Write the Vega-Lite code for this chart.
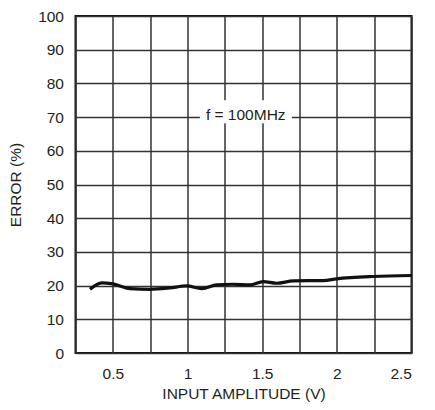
{
  "$schema": "https://vega.github.io/schema/vega-lite/v6.json",
  "autosize": "none",
  "width": 336,
  "height": 337,
  "padding": {"left": 75.5, "top": 16, "right": 23, "bottom": 57},
  "background": "white",
  "config": {
    "font": "Liberation Sans",
    "view": {"stroke": "#111111", "strokeWidth": 2},
    "axis": {
      "grid": true,
      "gridColor": "#333333",
      "gridWidth": 1.5,
      "gridOpacity": 1,
      "domain": false,
      "ticks": false,
      "tickCount": 50,
      "labelOverlap": false,
      "labelFont": "Liberation Sans",
      "labelFontSize": 15.5,
      "labelColor": "#231f20",
      "titleFont": "Liberation Sans",
      "titleFontSize": 15.5,
      "titleFontWeight": "normal",
      "titleColor": "#231f20"
    }
  },
  "datasets": {
    "curve": [
      {"amp": 0.347, "err": 18.9},
      {"amp": 0.425, "err": 20.8},
      {"amp": 0.49, "err": 20.6},
      {"amp": 0.615, "err": 19.1},
      {"amp": 0.75, "err": 18.9},
      {"amp": 0.88, "err": 19.3},
      {"amp": 0.994, "err": 19.9},
      {"amp": 1.095, "err": 19.1},
      {"amp": 1.195, "err": 20.2},
      {"amp": 1.306, "err": 20.4},
      {"amp": 1.418, "err": 20.2},
      {"amp": 1.507, "err": 21.2},
      {"amp": 1.597, "err": 20.7},
      {"amp": 1.708, "err": 21.4},
      {"amp": 1.909, "err": 21.5},
      {"amp": 1.998, "err": 22.0},
      {"amp": 2.243, "err": 22.7},
      {"amp": 2.5, "err": 23.0}
    ],
    "note": [
      {"x1": 1.083, "x2": 1.699, "y1": 68.2, "y2": 75.0, "tx": 1.39, "ty": 70.5, "label": "f = 100MHz"}
    ]
  },
  "layer": [
    {
      "data": {"name": "curve"},
      "mark": {"type": "line", "color": "#111111", "strokeWidth": 3.2, "interpolate": "monotone"},
      "encoding": {
        "x": {
          "field": "amp", "type": "quantitative",
          "scale": {"domain": [0.25, 2.5], "nice": false, "zero": false},
          "axis": {
            "title": "INPUT AMPLITUDE (V)",
            "values": [0.25, 0.5, 0.75, 1, 1.25, 1.5, 1.75, 2, 2.25, 2.5],
            "labelExpr": "(datum.value * 4) % 2 == 0 ? format(datum.value, '~g') : ''",
            "labelPadding": 13,
            "titlePadding": 5
          }
        },
        "y": {
          "field": "err", "type": "quantitative",
          "scale": {"domain": [0, 100], "nice": false},
          "axis": {
            "title": "ERROR (%)",
            "values": [0, 10, 20, 30, 40, 50, 60, 70, 80, 90, 100],
            "labelPadding": 12,
            "titlePadding": 14
          }
        }
      }
    },
    {
      "data": {"name": "note"},
      "mark": {"type": "rect", "color": "white"},
      "encoding": {
        "x": {"field": "x1", "type": "quantitative"},
        "x2": {"field": "x2"},
        "y": {"field": "y1", "type": "quantitative"},
        "y2": {"field": "y2"}
      }
    },
    {
      "data": {"name": "note"},
      "mark": {"type": "text", "fontSize": 15.5, "color": "#231f20", "align": "center", "baseline": "middle"},
      "encoding": {
        "x": {"field": "tx", "type": "quantitative"},
        "y": {"field": "ty", "type": "quantitative"},
        "text": {"field": "label"}
      }
    }
  ]
}
